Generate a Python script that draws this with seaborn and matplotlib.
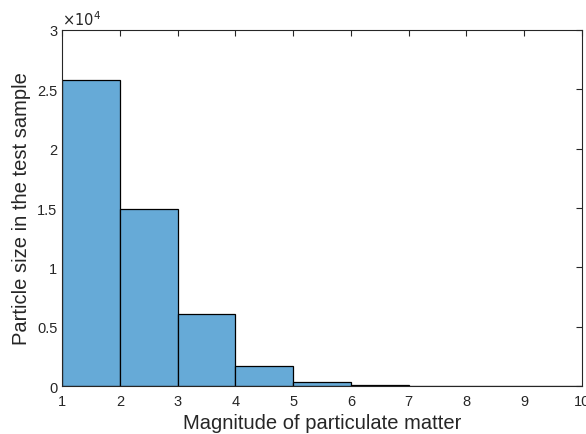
import matplotlib
matplotlib.use("Agg")
import matplotlib.pyplot as plt
import seaborn as sns
import numpy as np

bin_edges = [1, 2, 3, 4, 5, 6, 7, 8, 9, 10]
counts = [25800, 14900, 6050, 1700, 380, 100, 0, 0, 0]
bin_centers = [1.5, 2.5, 3.5, 4.5, 5.5, 6.5, 7.5, 8.5, 9.5]
ytick_vals = [0, 5000, 10000, 15000, 20000, 25000, 30000]
ytick_labels = ["0", "0.5", "1", "1.5", "2", "2.5", "3"]
xticks = [1, 2, 3, 4, 5, 6, 7, 8, 9, 10]

sns.set_style("white")
plt.rcParams['font.family'] = ['Liberation Sans', 'DejaVu Sans']

fig = plt.figure(figsize=(5.86, 4.35), dpi=100)
ax = fig.add_axes([0.106, 0.110, 0.887, 0.819])
sns.histplot(x=bin_centers, weights=counts, bins=bin_edges, ax=ax,
             color="#66AAD7", alpha=1.0, edgecolor="black", linewidth=0.9)
ax.set_xlim(1, 10)
ax.set_ylim(0, 30000)
ax.set_xticks(xticks)
ax.set_xticklabels([str(v) for v in xticks])
ax.set_yticks(ytick_vals)
ax.set_yticklabels(ytick_labels)
ax.tick_params(direction="in", length=4, width=0.8, labelsize=10.5, top=True, right=True,
               colors="#262626")
ax.tick_params(axis="x", pad=6)
for s in ax.spines.values():
    s.set_visible(True)
    s.set_color("#262626")
    s.set_linewidth(0.8)
ax.set_xlabel("Magnitude of particulate matter", fontsize=14.5, labelpad=3)
ax.set_ylabel("Particle size in the test sample", fontsize=14.5, labelpad=4)
ax.text(0.0, 1.005, r"$\times10^4$", transform=ax.transAxes, fontsize=10.5,
        ha="left", va="bottom", color="#262626")
fig.savefig("out.png", dpi=100)
